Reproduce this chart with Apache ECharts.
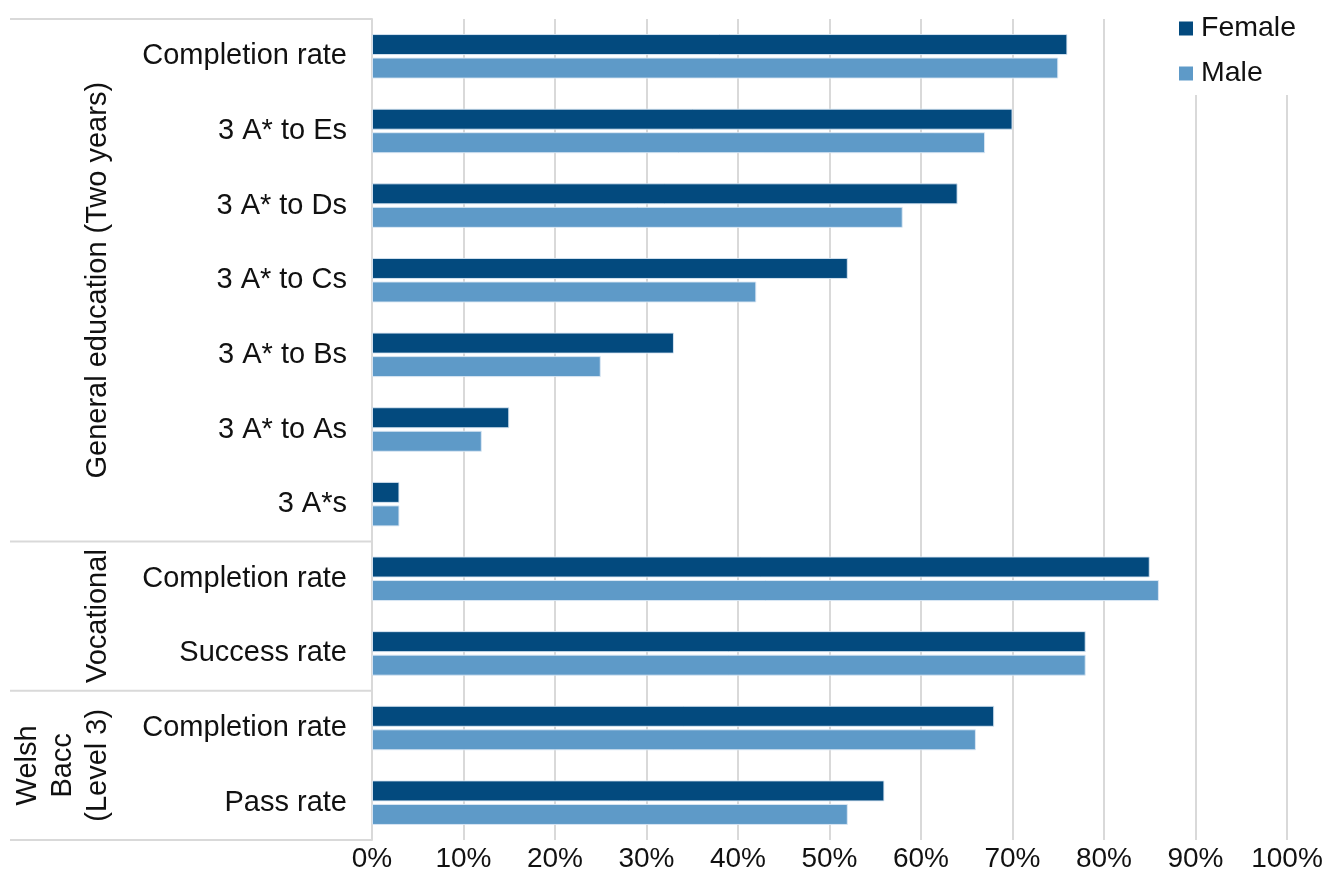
<!DOCTYPE html>
<html>
<head>
<meta charset="utf-8">
<script src="https://cdn.jsdelivr.net/npm/echarts@6/dist/echarts.min.js"></script>
<style>
html,body{margin:0;padding:0;background:#fff;}
#chart{width:1327px;height:886px;}
</style>
</head>
<body>
<div id="chart"></div>
<script>
var categories = ['Completion rate','3 A* to Es','3 A* to Ds','3 A* to Cs','3 A* to Bs','3 A* to As','3 A*s','Completion rate','Success rate','Completion rate','Pass rate'];
var female = [76,70,64,52,33,15,3,85,78,68,56];
var male = [75,67,58,42,25,12,3,86,78,66,52];
var groupNames = ['General education (Two years)','Vocational','Welsh\nBacc\n(Level 3)'];
var groupSizes = [7,2,2];
var xTicks = [0,10,20,30,40,50,60,70,80,90,100];

(function(){
var FONT = 'Liberation Sans, Arial, sans-serif';
var TXT = '#111111';
var chart = echarts.init(document.getElementById('chart'));
var option = {
  backgroundColor:'#fff',
  animation:false,
  grid:{left:372,right:40,top:19,bottom:46,containLabel:false},
  legend:{
    orient:'vertical', left:1165, top:0,
    padding:[14,30,7,14],
    backgroundColor:'#fff',
    itemWidth:14, itemHeight:14, itemGap:16, icon:'rect',
    itemStyle:{borderWidth:0},
    textStyle:{fontFamily:FONT,fontSize:28.5,color:TXT,padding:[0,0,0,3]},
    data:['Female','Male']
  },
  xAxis:{
    type:'value', min:xTicks[0], max:xTicks[xTicks.length-1], interval:10,
    axisLine:{show:false}, axisTick:{show:false},
    splitLine:{show:true,lineStyle:{color:'#d9d9d9',width:2}},
    axisLabel:{formatter:'{value}%',fontFamily:FONT,fontSize:28,color:TXT,margin:5}
  },
  yAxis:{
    type:'category', inverse:true, data:categories,
    axisLine:{show:true,lineStyle:{color:'#d9d9d9',width:2}},
    axisTick:{show:false},
    axisLabel:{fontFamily:FONT,fontSize:29,color:TXT,margin:25}
  },
  series:[
    {name:'Female',type:'bar',data:female,barWidth:21,barGap:'12%',
     itemStyle:{color:'#034A7E',borderColor:'rgba(220,232,244,0.9)',borderWidth:1}},
    {name:'Male',type:'bar',data:male,barWidth:21,barGap:'12%',
     itemStyle:{color:'#5E9AC8',borderColor:'rgba(220,232,244,0.9)',borderWidth:1}}
  ]
};
chart.setOption(option);

// group separators and labels, positioned from the category axis
var c0 = chart.convertToPixel({yAxisIndex:0}, 0);
var c1 = chart.convertToPixel({yAxisIndex:0}, 1);
var band = c1 - c0;
var axisX = chart.convertToPixel({xAxisIndex:0}, 0);
var plotTop = c0 - band/2;
var els = [];
var start = 0;
els.push({type:'line',shape:{x1:10,y1:plotTop,x2:axisX,y2:plotTop},style:{stroke:'#d9d9d9',lineWidth:2},z:10});
for (var g=0; g<groupNames.length; g++){
  var y0 = plotTop + start*band;
  var y1 = plotTop + (start+groupSizes[g])*band;
  els.push({type:'line',shape:{x1:10,y1:y1,x2:axisX,y2:y1},style:{stroke:'#d9d9d9',lineWidth:2},z:10});
  var lines = groupNames[g].split('\n').length;
  var cx = 98 - (lines-1)*35/2;
  els.push({type:'text',x:cx,y:(y0+y1)/2,rotation:Math.PI/2,
    style:{text:groupNames[g],fontFamily:FONT,fontSize:29,fill:TXT,align:'center',verticalAlign:'middle',lineHeight:35},z:10});
  start += groupSizes[g];
}
chart.setOption({graphic:{elements:els}});
})();
</script>
</body>
</html>
